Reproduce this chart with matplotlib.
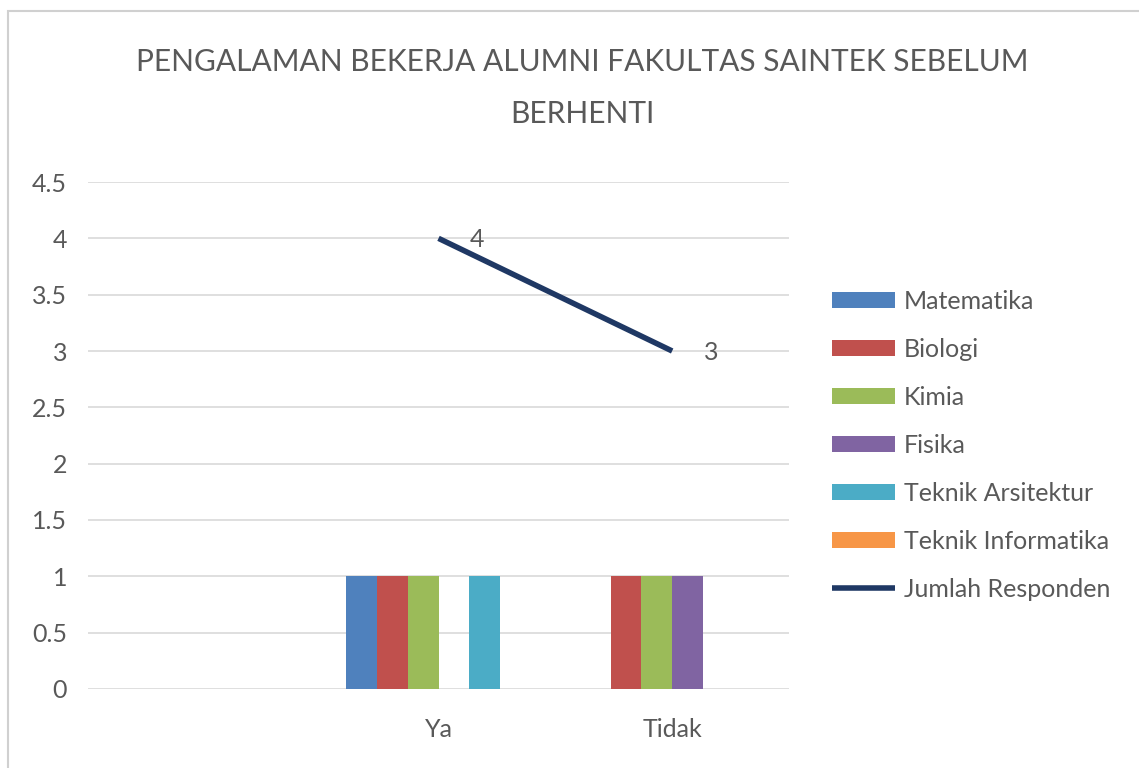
import matplotlib
matplotlib.use("Agg")
import matplotlib.pyplot as plt
import numpy as np
from matplotlib.patches import Rectangle

plt.rcParams['font.family'] = ['Lato', 'DejaVu Sans']

# Data: first category is left blank, as in the source sheet
categories = ['', 'Ya', 'Tidak']
jurusan = ['Matematika', 'Biologi', 'Kimia', 'Fisika',
           'Teknik Arsitektur', 'Teknik Informatika']
matematika = [np.nan, 1, 0]
biologi = [np.nan, 1, 1]
kimia = [np.nan, 1, 1]
fisika = [np.nan, 0, 1]
teknik_arsitektur = [np.nan, 1, 0]
teknik_informatika = [np.nan, 0, 0]
jumlah_responden = [np.nan, 4, 3]
yticks = [0, 0.5, 1, 1.5, 2, 2.5, 3, 3.5, 4, 4.5]
ytick_labels = ['0', '0.5', '1', '1.5', '2', '2.5', '3', '3.5', '4', '4.5']

series = [matematika, biologi, kimia, fisika, teknik_arsitektur, teknik_informatika]
colors = ['#4F81BD', '#C0504D', '#9BBB59', '#8064A2', '#4BACC6', '#F79646']
line_color = '#1F3864'
text_color = '#595959'
grid_color = '#D9D9D9'

fig = plt.figure(figsize=(11.39, 7.68), dpi=100)
ax = fig.add_axes([0.0773, 0.1029, 0.6154, 0.6601])

x = np.arange(len(categories))
w = 0.1314
handles = []
for i, (vals, name, c) in enumerate(zip(series, jurusan, colors)):
    h = ax.bar(x + (i - 2.5) * w, vals, width=w, color=c, label=name, zorder=3)
    handles.append(h)

ln, = ax.plot(x, jumlah_responden, color=line_color, linewidth=4,
              solid_capstyle='butt', label='Jumlah Responden', zorder=4)
handles.append(ln)
for xi, v in zip(x, jumlah_responden):
    if not np.isnan(v):
        ax.annotate(f'{v:g}', (xi, v), xytext=(28, -1), textcoords='offset points',
                    ha='center', va='center', fontsize=18, color=text_color)

ax.set_xlim(-0.5, 2.5)
ax.set_ylim(0, 4.5)
ax.set_yticks(yticks)
ax.set_yticklabels(ytick_labels)
ax.set_xticks(x)
ax.set_xticklabels(categories)
ax.yaxis.grid(True, color=grid_color, linewidth=1.2, zorder=0)
ax.set_axisbelow(True)
for s in ax.spines.values():
    s.set_visible(False)
ax.tick_params(axis='both', length=0, labelsize=18, labelcolor=text_color)
ax.tick_params(axis='y', pad=15)
ax.tick_params(axis='x', pad=21)

fig.text(0.511, 0.885, 'PENGALAMAN BEKERJA ALUMNI FAKULTAS SAINTEK SEBELUM\nBERHENTI',
         ha='center', va='center', fontsize=21.5, color=text_color, linespacing=2.05)

leg = fig.legend(handles=handles, labels=[h.get_label() for h in handles],
                 loc='center left', bbox_to_anchor=(0.711, 0.42), frameon=False,
                 fontsize=18, handlelength=2.5, handleheight=0.62,
                 handletextpad=0.35, labelspacing=1.0)
for t in leg.get_texts():
    t.set_color(text_color)

# chart area border
fig.patches.append(Rectangle((8 / 1139, -0.1), 1.2, 1 - 11 / 768 + 0.1,
                             transform=fig.transFigure, fill=False,
                             edgecolor='#D0D0D0', linewidth=1.5))

fig.savefig('out.png', dpi=100)
